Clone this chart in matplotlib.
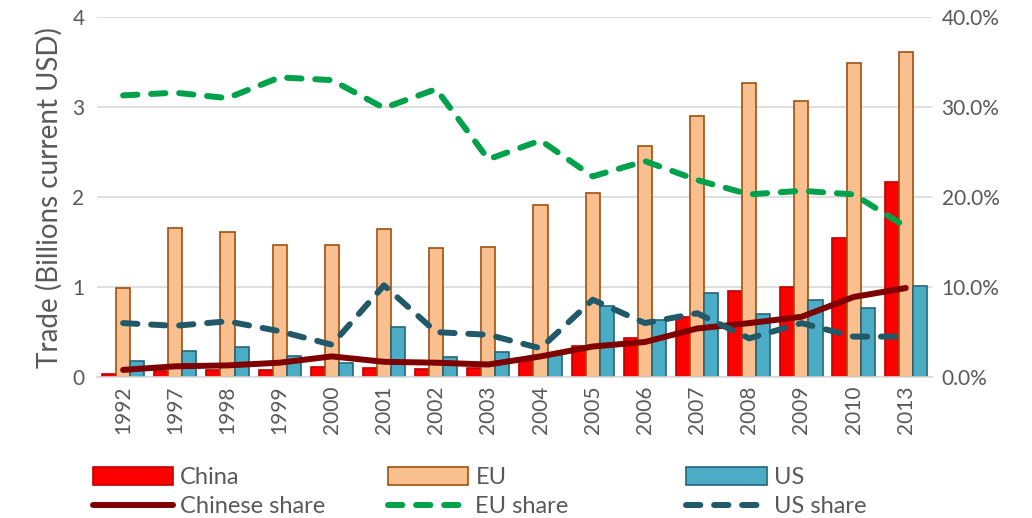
import numpy as np
import matplotlib
matplotlib.use("Agg")
import matplotlib.pyplot as plt
from matplotlib.patches import Patch
from matplotlib.lines import Line2D

years = ["1992", "1997", "1998", "1999", "2000", "2001", "2002", "2003",
         "2004", "2005", "2006", "2007", "2008", "2009", "2010", "2013"]
china = [0.03, 0.07, 0.08, 0.08, 0.11, 0.10, 0.09, 0.10,
         0.20, 0.35, 0.43, 0.67, 0.96, 1.00, 1.55, 2.17]
eu = [0.99, 1.66, 1.61, 1.47, 1.47, 1.64, 1.43, 1.45,
      1.91, 2.05, 2.57, 2.90, 3.27, 3.07, 3.49, 3.61]
us = [0.18, 0.29, 0.33, 0.23, 0.16, 0.56, 0.22, 0.28,
      0.27, 0.79, 0.63, 0.94, 0.70, 0.86, 0.77, 1.01]
china_share = [0.8, 1.2, 1.3, 1.6, 2.3, 1.7, 1.6, 1.4,
               2.3, 3.4, 3.9, 5.4, 6.0, 6.7, 8.9, 9.9]
eu_share = [31.3, 31.6, 31.0, 33.3, 33.0, 29.9, 32.0, 24.2,
            26.3, 22.3, 24.0, 21.9, 20.3, 20.7, 20.3, 16.7]
us_share = [6.0, 5.7, 6.2, 5.1, 3.6, 10.2, 5.0, 4.7,
            3.2, 8.6, 6.0, 7.1, 4.3, 6.0, 4.5, 4.5]

plt.rcParams['font.family'] = ['Lato', 'DejaVu Sans']
TXT = '#595959'
FS = 15

fig = plt.figure(figsize=(10.32, 5.18), dpi=100)
ax = fig.add_axes([0.094, 0.272, 0.809, 0.695])
ax2 = ax.twinx()

x = np.arange(len(years))
w = 0.27
ax.bar(x - w, china, w, color='#FF0000', edgecolor='#C00000', linewidth=1.2, zorder=2)
ax.bar(x, eu, w, color='#F9BF8F', edgecolor='#A0500F', linewidth=1.2, zorder=2)
ax.bar(x + w, us, w, color='#4BACC6', edgecolor='#2A6474', linewidth=1.2, zorder=2)

ax.set_xlim(-0.5, len(years) - 0.5)
ax.set_ylim(0, 4)
ax.set_yticks([0, 1, 2, 3, 4])
ax.grid(axis='y', color='#D9D9D9', linewidth=1.2, zorder=0)
ax.set_axisbelow(True)
ax.set_xticks(x)
ax.set_xticklabels(years, rotation=90)
ax.tick_params(axis='both', length=0, labelsize=FS, colors=TXT, pad=9)
ax.tick_params(axis='x', pad=6)
ax.set_ylabel('Trade (Billions current USD)', fontsize=20, color=TXT, labelpad=7)
for s in ['top', 'right', 'left']:
    ax.spines[s].set_visible(False)
ax.spines['bottom'].set_color('#D9D9D9')
ax.spines['bottom'].set_linewidth(1.2)

lw = 4.3
dash = (2.4, 2.3)
ax2.plot(x, china_share, color='#7F0000', linewidth=lw, solid_capstyle='round',
         solid_joinstyle='round', zorder=5)
ax2.plot(x, eu_share, color='#00A14B', linewidth=lw, dashes=dash,
         dash_capstyle='round', zorder=5)
ax2.plot(x, us_share, color='#215968', linewidth=lw, dashes=dash,
         dash_capstyle='round', zorder=5)
ax2.set_ylim(0, 40)
ax2.set_yticks([0, 10, 20, 30, 40])
ax2.set_yticklabels(['0.0%', '10.0%', '20.0%', '30.0%', '40.0%'])
ax2.tick_params(axis='y', length=0, labelsize=FS, colors=TXT, pad=7)
for s in ax2.spines.values():
    s.set_visible(False)
ax.set_zorder(1)
ax2.set_zorder(2)
ax2.patch.set_visible(False)

entries = [
    (Patch(facecolor='#FF0000', edgecolor='#C00000', linewidth=1.2), 'China',
     Line2D([], [], color='#7F0000', linewidth=lw, solid_capstyle='round'), 'Chinese share'),
    (Patch(facecolor='#F9BF8F', edgecolor='#A0500F', linewidth=1.2), 'EU',
     Line2D([], [], color='#00A14B', linewidth=lw, dashes=dash, dash_capstyle='round'), 'EU share'),
    (Patch(facecolor='#4BACC6', edgecolor='#2A6474', linewidth=1.2), 'US',
     Line2D([], [], color='#215968', linewidth=lw, dashes=dash, dash_capstyle='round'), 'US share'),
]
xs = [0.090, 0.376, 0.665]
for (h1, l1, h2, l2), xp in zip(entries, xs):
    leg = fig.legend([h1, h2], [l1, l2], loc='upper left', bbox_to_anchor=(xp, 0.098),
                     frameon=False, fontsize=17, handlelength=3.4, handleheight=0.75,
                     handletextpad=0.3, labelspacing=0.33, borderpad=0, borderaxespad=0)
    for t in leg.get_texts():
        t.set_color(TXT)

fig.savefig('out.png', dpi=100)
